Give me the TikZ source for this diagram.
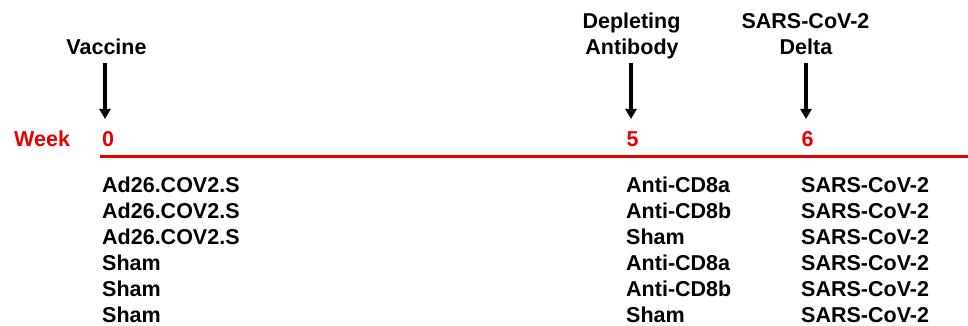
\documentclass[tikz,border=0pt]{standalone}
\usepackage{fontspec}
\setmainfont{Liberation Sans}
\usetikzlibrary{arrows.meta}
\definecolor{wkred}{RGB}{230,0,0}
\tikzset{
  lbl/.style={inner sep=0pt, font=\fontsize{21.5}{25}\selectfont\bfseries},
  redlbl/.style={lbl, text=wkred},
  evarrow/.style={draw=black, line width=3.2pt, -{Triangle[width=11pt,length=10pt]}},
  tline/.style={draw=wkred, line width=3pt}
}
\begin{document}
\begin{tikzpicture}[x=1pt,y=1pt]
\useasboundingbox (0,0) rectangle (968,326);
% headers
\node[lbl, anchor=base] (hvac) at (106.5,271.5) {Vaccine};
\node[lbl, anchor=base] (hdep1) at (631.5,297.7) {Depleting};
\node[lbl, anchor=base] (hdep2) at (632,271.5) {Antibody};
\node[lbl, anchor=base] (hsars1) at (805.5,297.7) {SARS-CoV-2};
\node[lbl, anchor=base] (hsars2) at (806,271.5) {Delta};
% arrows
\coordinate (a0s) at (105,263); \coordinate (a0e) at (105,207);
\coordinate (a5s) at (631,263); \coordinate (a5e) at (631,207);
\coordinate (a6s) at (806,263); \coordinate (a6e) at (806,207);
\draw[evarrow] (a0s) -- (a0e);
\draw[evarrow] (a5s) -- (a5e);
\draw[evarrow] (a6s) -- (a6e);
% week labels
\node[redlbl, anchor=base west] (week) at (14,179.5) {Week};
\node[redlbl, anchor=base west] (w0) at (102,179.5) {0};
\node[redlbl, anchor=base west] (w5) at (626.5,179.5) {5};
\node[redlbl, anchor=base west] (w6) at (801.5,179.5) {6};
% timeline
\coordinate (tl) at (100,169); \coordinate (tr) at (968,169);
\draw[tline] (tl) -- (tr);
% rows
\foreach \i/\a/\b in {0/Ad26.COV2.S/Anti-CD8a, 1/Ad26.COV2.S/Anti-CD8b, 2/Ad26.COV2.S/Sham, 3/Sham/Anti-CD8a, 4/Sham/Anti-CD8b, 5/Sham/Sham}{
  \node[lbl, anchor=base west] (ra\i) at (102,{133.3-26.06*\i}) {\a};
  \node[lbl, anchor=base west] (rb\i) at (626,{133.3-26.06*\i}) {\b};
  \node[lbl, anchor=base west] (rc\i) at (801,{133.3-26.06*\i}) {SARS-CoV-2};
}
\end{tikzpicture}
\end{document}
